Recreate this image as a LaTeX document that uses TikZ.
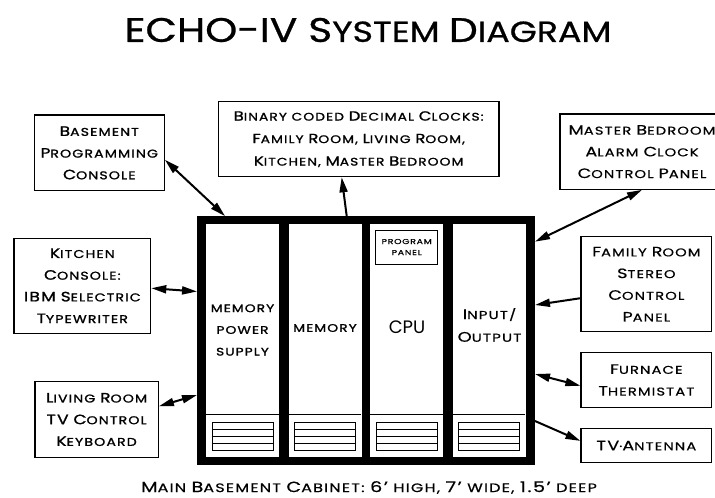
\documentclass[tikz,border=0pt]{standalone}
\usepackage{fontspec}
\setmainfont{Poppins}[FakeStretch=1.3,LetterSpace=10,FakeBold=0.6]
\newfontfamily\boldf{Poppins}[FakeStretch=1.25,LetterSpace=10,FakeBold=1.4]
\newfontfamily\titlef{Poppins}[FakeStretch=1.2,FakeBold=0.8]
\newfontfamily\plainf{Poppins}
\usetikzlibrary{arrows.meta,calc}
\makeatletter
\newcommand\U[1]{{\fontsize{\fpeval{\f@size*1.2}}{\f@baselineskip}\selectfont #1}}
\makeatother
\begin{document}
\begin{tikzpicture}[x=1pt,y=-1pt,
  box/.style={draw,line width=1.2pt,align=center,inner sep=0pt,font=\fontsize{11.3}{21.7}\selectfont},
  tip/.tip={Triangle[length=15pt,width=8pt]},
  link/.style={line width=2pt,-tip},
  dlink/.style={line width=2pt,tip-tip},
  panel/.style={fill=white,inner sep=0pt,minimum width=73pt,minimum height=233pt},
  ptext/.style={align=center,inner sep=0pt},
  vent/.style={line width=1pt}]
\useasboundingbox (0,0) rectangle (715,498);
\clip (0,0) rectangle (715,498);
% title
\node[inner sep=0pt] (title) at (368,30) {\titlef\fontsize{29}{30}\selectfont{\fontsize{34}{34}\selectfont ECHO-IV S}YSTEM {\fontsize{34}{34}\selectfont D}IAGRAM};
% cabinet
\node[fill=black,inner sep=0pt,minimum width=338pt,minimum height=249pt] (cab) at (366,340.5) {};
\node[panel] (p1) at (242.5,340.5) {};
\node[panel] (p2) at (325,340.5) {};
\node[panel] (p3) at (406.5,340.5) {};
\node[panel] (p4) at (489,340.5) {};
\foreach \x in {206,288,370,452}{
  \draw[line width=0.8pt] (\x,414) -- (\x+73,414);
  \draw[vent] (\x+6.7,422) rectangle (\x+67.3,450);
  \foreach \y in {429,436,443} \draw[vent] (\x+6.7,\y) -- (\x+67.3,\y);
}
\node[ptext,font=\boldf\fontsize{11}{21.7}\selectfont] (t1) at (242.5,330) {MEMORY\\POWER\\SUPPLY};
\node[ptext,font=\boldf\fontsize{11}{21.7}\selectfont] (t2) at (325,328) {MEMORY};
\node[ptext,font=\plainf\fontsize{18}{20}\selectfont] (t3) at (407,327) {CPU};
\node[ptext,font=\fontsize{11.5}{22.7}\selectfont] (t4) at (489.5,325) {\U{I}NPUT/\\\U{O}UTPUT};
\node[draw,line width=1pt,inner sep=0pt,minimum width=62pt,minimum height=34pt,align=center,font=\fontsize{7.2}{11}\selectfont] (pp) at (406.7,247) {PROGRAM\\PANEL};
% boxes
\node[box,font=\boldf\fontsize{11.3}{21.7}\selectfont,minimum width=130pt,minimum height=75.7pt] (bpc) at (99.3,152.9) {\U{B}ASEMENT\\\U{P}ROGRAMMING\\\U{C}ONSOLE};
\node[box,font=\boldf\fontsize{11.3}{21.7}\selectfont,minimum width=136.7pt,minimum height=95pt] (kc) at (82.35,285.8) {\U{K}ITCHEN\\\U{C}ONSOLE:\\\U{IBM} \U{S}ELECTRIC\\\U{T}YPEWRITER};
\node[box,font=\boldf\fontsize{11.3}{21.7}\selectfont,minimum width=123.3pt,minimum height=75.6pt] (lr) at (96.65,419.5) {\U{L}IVING \U{R}OOM\\\U{TV} \U{C}ONTROL\\\U{K}EYBOARD};
\node[box,minimum width=280.7pt,minimum height=75pt,font=\boldf\fontsize{11}{22.5}\selectfont] (bcd) at (358.65,139.2) {\U{B}INARY CODED \U{D}ECIMAL \U{C}LOCKS:\\\U{F}AMILY \U{R}OOM, \U{L}IVING \U{R}OOM,\\\U{K}ITCHEN, \U{M}ASTER \U{B}EDROOM};
\node[box,minimum width=164pt,minimum height=75.3pt] (mb) at (642,151.65) {\U{M}ASTER \U{B}EDROOM\\\U{A}LARM \U{C}LOCK\\\U{C}ONTROL \U{P}ANEL};
\node[box,minimum width=130.7pt,minimum height=95pt] (fr) at (646.35,284.2) {\U{F}AMILY \U{R}OOM\\\U{S}TEREO\\\U{C}ONTROL\\\U{P}ANEL};
\node[box,minimum width=130.7pt,minimum height=54.6pt] (ft) at (646.35,380) {\U{F}URNACE\\\U{T}HERMISTAT};
\node[box,minimum width=130.7pt,minimum height=34.4pt] (tv) at (646.35,445.5) {\U{TV}·\U{A}NTENNA};
% caption
\node[inner sep=0pt,font=\fontsize{12.3}{13}\selectfont] (cap) at (369,487.5) {\U{M}AIN \U{B}ASEMENT \U{C}ABINET: \U{6'} HIGH, \U{7'} WIDE, \U{1.5'} DEEP};
% cabinet attachment points
\coordinate (cBpc) at (225,216);
\coordinate (cKc) at (197,291.5);
\coordinate (cLr) at (197,395);
\coordinate (cBcd) at (346.7,216);
\coordinate (cMb) at (535,241.7);
\coordinate (cFr) at (535,305);
\coordinate (cFt) at (535,374);
\coordinate (cTv) at (535,421);
% connectors
\draw[dlink] (bpc.-6) -- (cBpc);
\draw[dlink] (kc.-2) -- (cKc);
\draw[dlink] (lr.12) -- (cLr);
\draw[link] (cBcd) -- (bcd.-114);
\draw[dlink] (mb.south) -- (cMb);
\draw[link] (fr.192) -- (cFr);
\draw[dlink] (cFt) -- (ft.185);
\draw[link] (cTv) -- (tv.176);
\end{tikzpicture}
\end{document}
